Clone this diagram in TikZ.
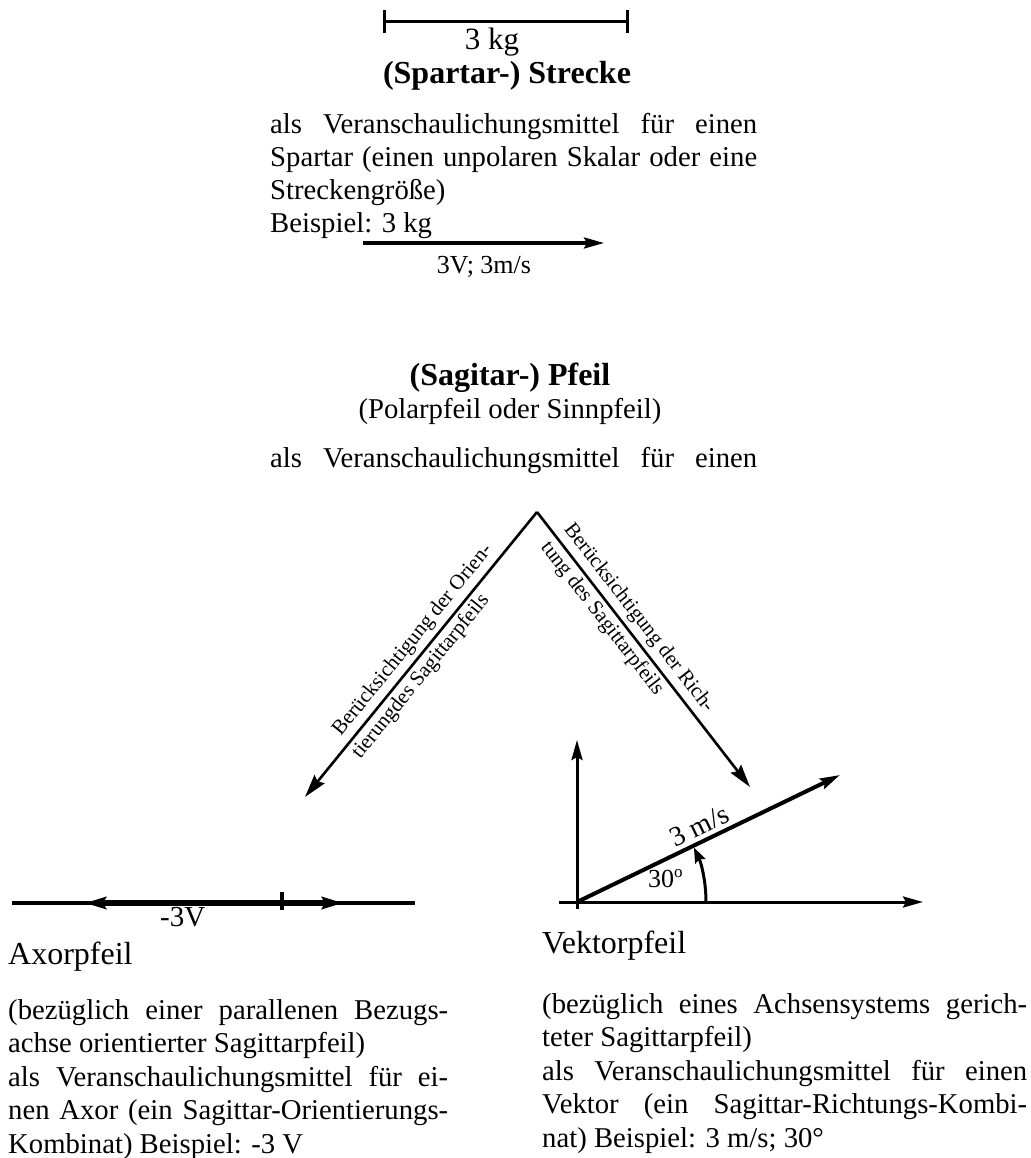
\documentclass[tikz,border=0pt]{standalone}
\usepackage{fontspec}
\setmainfont{Liberation Serif}
\usetikzlibrary{arrows.meta}
\newcommand\jl[2]{\hbox to #1{#2}}
\newcommand\rl[1]{\hbox{#1}}
\newcommand\para[1]{\vtop{\lineskiplimit=-100pt\lineskip=0pt #1}}
\tikzset{
  body/.style={font=\fontsize{28.7pt}{33.5pt}\selectfont, inner sep=0pt},
  bodytop/.style={font=\fontsize{28.7pt}{33pt}\selectfont, inner sep=0pt},
  headb/.style={font=\fontsize{32pt}{36pt}\selectfont\bfseries, inner sep=0pt},
  headr/.style={font=\fontsize{32pt}{36pt}\selectfont, inner sep=0pt},
  diag/.style={font=\fontsize{21pt}{24pt}\selectfont},
  tipbig/.style={-{Stealth[length=21pt,width=12pt,inset=3pt]}},
  tipmid/.style={-{Stealth[length=20pt,width=11pt,inset=3pt]}},
  tipsmall/.style={-{Stealth[length=15pt,width=11pt,inset=2pt]}},
  diagline/.style={line width=2.6pt, -{Stealth[length=23pt,width=13pt,inset=3pt]}},
}
\begin{document}
\begin{tikzpicture}[x=1pt,y=-1pt]
\useasboundingbox (0,0) rectangle (1030,1158);

% ---- Strecke ----
\coordinate (b1) at (383,22);
\coordinate (b2) at (629,22);
\draw[line width=3pt, {Bar[width=23pt]}-{Bar[width=23pt]}] (b1) -- (b2);
\node[font=\fontsize{31pt}{34pt}\selectfont, inner sep=0pt, anchor=base] (kg) at (492,50) {3 kg};
\node[headb, anchor=base] (strecke) at (507,84) {(Spartar-) Strecke};

\node[bodytop, anchor=base west] (sp) at (270,134) {\para{%
\jl{487pt}{als Veranschaulichungsmittel für einen}%
\jl{487pt}{Spartar (einen unpolaren Skalar oder eine}%
\rl{Streckengröße)}%
\rl{Beispiel: 3 kg}}};

\coordinate (t1) at (363,243);
\coordinate (t2) at (604,243);
\draw[line width=3.2pt, tipmid] (t1) -- (t2);
\node[font=\fontsize{26pt}{30pt}\selectfont, inner sep=0pt, anchor=base] (v3) at (484,273) {3V; 3m/s};

% ---- Pfeil ----
\node[headb, anchor=base] (pfeil) at (510,385) {(Sagitar-) Pfeil};
\node[body, anchor=base] (polar) at (510,418) {(Polarpfeil oder Sinnpfeil)};
\node[body, anchor=base west] (mv) at (270,467) {\jl{487pt}{als Veranschaulichungsmittel für einen}};

% ---- diagonals ----
\coordinate (apex) at (537,512);
\coordinate (ltip) at (305,797);
\coordinate (rtip) at (750,787);
\draw[diagline] (apex) -- (ltip)
  node[diag, inner sep=4.5pt, pos=0.484, rotate=50.85, anchor=south] (lo) {Berücksichtigung der Orien-}
  node[diag, inner sep=3pt, pos=0.547, rotate=50.85, anchor=north] (li) {tierungdes Sagittarpfeils};
\draw[diagline] (apex) -- (rtip)
  node[diag, inner sep=4.5pt, pos=0.42, rotate=-52.24, anchor=south] (ro) {Berücksichtigung der Rich-}
  node[diag, inner sep=3pt, pos=0.357, rotate=-52.24, anchor=north] (ri) {tung des Sagittarpfeils};

% ---- Axor ----
\coordinate (ax1) at (12,903);
\coordinate (ax2) at (415,903);
\coordinate (tk) at (282,903);
\coordinate (tkt) at (282,892);
\coordinate (tkb) at (282,910);
\coordinate (al) at (85,903);
\coordinate (ar) at (343,903);
\draw[line width=3.5pt] (ax1) -- (ax2);
\draw[line width=5.5pt, tipbig] (tk) -- (al);
\draw[line width=5.5pt, tipbig] (tk) -- (ar);
\draw[line width=4.5pt] (tkt) -- (tkb);
\node[font=\fontsize{29pt}{33pt}\selectfont, inner sep=0pt, anchor=base west] (m3v) at (160,926) {-3V};

\node[headr, anchor=base west] (axor) at (8,964) {Axorpfeil};
\node[body, anchor=base west] (axtext) at (8,1019) {\para{%
\jl{440pt}{(bezüglich einer parallenen Bezugs-}%
\rl{achse orientierter Sagittarpfeil)}%
\jl{440pt}{als Veranschaulichungsmittel für ei-}%
\jl{440pt}{nen Axor (ein Sagittar-Orientierungs-}%
\rl{Kombinat) Beispiel: -3 V}}};

% ---- Vektor ----
\coordinate (O) at (577,902);
\coordinate (vy0) at (577,909);
\coordinate (vy1) at (577,740);
\coordinate (vx0) at (559,902);
\coordinate (vx1) at (923,902);
\coordinate (vt) at (840,775);
\coordinate (arcs) at (706,902);
\draw[line width=3pt, tipmid] (vy0) -- (vy1);
\draw[line width=3pt, tipmid] (vx0) -- (vx1);
\draw[line width=4pt, tipmid] (O) -- (vt)
  node[pos=0.49, sloped, above, font=\fontsize{28pt}{32pt}\selectfont, inner sep=4pt] (ms) {3 m/s};
\draw[line width=3pt, tipsmall] (arcs) arc[start angle=0, end angle=-25, radius=129];
\node[font=\fontsize{26pt}{30pt}\selectfont, inner sep=0pt, anchor=base west] (deg) at (648,887) {30\raisebox{10pt}{\fontsize{17pt}{17pt}\selectfont o}};

\node[headr, anchor=base west] (vektor) at (542,953) {Vektorpfeil};
\node[body, anchor=base west] (vtext) at (542,1013) {\para{%
\jl{485pt}{(bezüglich eines Achsensystems gerich-}%
\rl{teter Sagittarpfeil)}%
\jl{485pt}{als Veranschaulichungsmittel für einen}%
\jl{485pt}{Vektor (ein Sagittar-Richtungs-Kombi-}%
\rl{nat) Beispiel: 3 m/s; 30°}}};
\end{tikzpicture}
\end{document}
